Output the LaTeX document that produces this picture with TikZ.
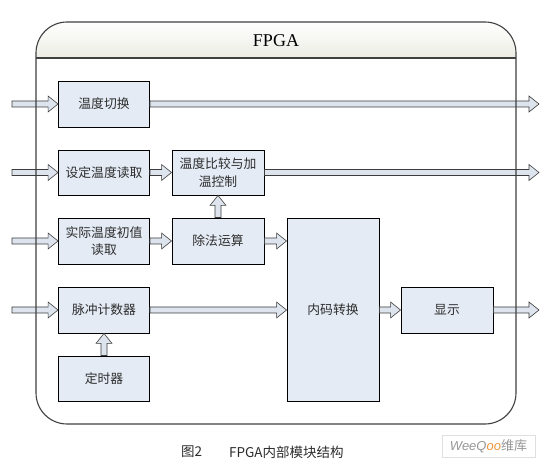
\documentclass[tikz,border=0pt]{standalone}
\usepackage{fontspec}
\setmainfont{Liberation Serif}
\newfontfamily\cjk{Noto Sans CJK SC}
\newfontfamily\wmfont{Liberation Sans}
\usetikzlibrary{calc}
\definecolor{boxfill}{RGB}{228,235,245}
\definecolor{arrowfill}{RGB}{221,228,238}
\definecolor{arrowline}{RGB}{60,60,60}
\definecolor{framecol}{RGB}{64,64,64}
\definecolor{hdrcol}{RGB}{236,236,228}
\definecolor{txtcol}{RGB}{45,45,45}
\definecolor{wmgray}{RGB}{150,150,150}
\definecolor{wmorange}{RGB}{240,150,60}
\tikzset{
  blockbox/.style={draw=black, line width=0.9pt, fill=boxfill, inner sep=2pt,
    minimum width=91pt, minimum height=46pt, align=center, text=txtcol,
    font=\cjk\fontsize{12.8}{17.5}\selectfont},
  harrow/.style={draw=arrowline, fill=arrowfill, line width=0.6pt, line join=miter,
    to path={([yshift=3pt]\tikztostart) -- ([xshift=-10pt,yshift=3pt]\tikztotarget)
      -- ([xshift=-10pt,yshift=8pt]\tikztotarget) -- (\tikztotarget)
      -- ([xshift=-10pt,yshift=-8pt]\tikztotarget) -- ([xshift=-10pt,yshift=-3pt]\tikztotarget)
      -- ([yshift=-3pt]\tikztostart) -- cycle}},
  varrow/.style={draw=arrowline, fill=arrowfill, line width=0.6pt, line join=miter,
    to path={([xshift=-3pt]\tikztostart) -- ([yshift=-10pt,xshift=-3pt]\tikztotarget)
      -- ([yshift=-10pt,xshift=-8pt]\tikztotarget) -- (\tikztotarget)
      -- ([yshift=-10pt,xshift=8pt]\tikztotarget) -- ([yshift=-10pt,xshift=3pt]\tikztotarget)
      -- ([xshift=3pt]\tikztostart) -- cycle}},
  frameline/.style={draw=framecol, line width=1.1pt, rounded corners=31pt},
  captext/.style={font=\cjk\fontsize{13.5}{13.5}\selectfont, text=txtcol, inner sep=0pt},
}
\begin{document}
\begin{tikzpicture}[x=1pt,y=-1pt]
\useasboundingbox (0,0) rectangle (547,465);
\fill[white] (0,0) rectangle (547,465);

% FPGA frame header
\begin{scope}
  \clip[rounded corners=31pt] (36,22) rectangle (516,424);
  \shade[top color=white, bottom color=hdrcol] (36,22) rectangle (516,58);
\end{scope}
\node[font=\fontsize{18}{18}\selectfont, text=black] (title) at (276,41) {FPGA};

% blocks
\node[blockbox] (qh) at (104,104) {温度切换};
\node[blockbox, minimum height=45pt] (sd) at (104,172.5) {设定温度读取};
\node[blockbox, minimum width=92pt, minimum height=45pt] (bj) at (218,172.5) {温度比较与加\\温控制};
\node[blockbox] (sj) at (104,241) {实际温度初值\\读取};
\node[blockbox, minimum width=92pt] (cf) at (218,241) {除法运算};
\node[blockbox] (mc) at (104,310) {脉冲计数器};
\node[blockbox, minimum height=45pt] (ds) at (104,378.5) {定时器};
\node[blockbox, minimum width=92pt, minimum height=183pt] (nm) at (333,309.5) {内码转换};
\node[blockbox, minimum width=92pt] (xs) at (447,310) {显示};

% free ends
\coordinate (in1) at (12,104);
\coordinate (in2) at (12,172.5);
\coordinate (in3) at (12,241);
\coordinate (in4) at (12,310);
\coordinate (out1) at (539,104);
\coordinate (out2) at (539,172.5);
\coordinate (out3) at (539,310);
\coordinate (nmin1) at (cf.east -| nm.west);
\coordinate (nmin2) at (mc.east -| nm.west);
\coordinate (nmout) at (xs.west -| nm.east);

% arrows
\draw[harrow] (in1) to (qh.west);
\draw[harrow] (in2) to (sd.west);
\draw[harrow] (in3) to (sj.west);
\draw[harrow] (in4) to (mc.west);
\draw[harrow] (qh.east) to (out1);
\draw[harrow] (bj.east) to (out2);
\draw[harrow] (sd.east) to (bj.west);
\draw[harrow] (sj.east) to (cf.west);
\draw[harrow] (cf.east) to (nmin1);
\draw[harrow] (mc.east) to (nmin2);
\draw[harrow] (nmout) to (xs.west);
\draw[harrow] (xs.east) to (out3);
\draw[varrow] (cf.north) to (bj.south);
\draw[varrow] (ds.north) to (mc.south);

% frame outline on top
\draw[frameline] (36,22) rectangle (516,424);
\draw[draw=framecol, line width=1.1pt] (36,58) -- (516,58);

% caption
\node[captext, anchor=west] (cap1) at (181,452) {图2};
\node[captext, anchor=west] (cap2) at (229,452) {FPGA内部模块结构};

% watermark
\node[draw=gray!25, line width=0.8pt, minimum width=93pt, minimum height=22pt, inner sep=1pt] (wm) at (488.5,446)
  {\wmfont\itshape\fontsize{13}{13}\selectfont\textcolor{wmgray}{WeeQ}\textcolor{wmorange}{oo}\textcolor{wmgray}{\upshape\cjk 维库}};
\end{tikzpicture}
\end{document}
